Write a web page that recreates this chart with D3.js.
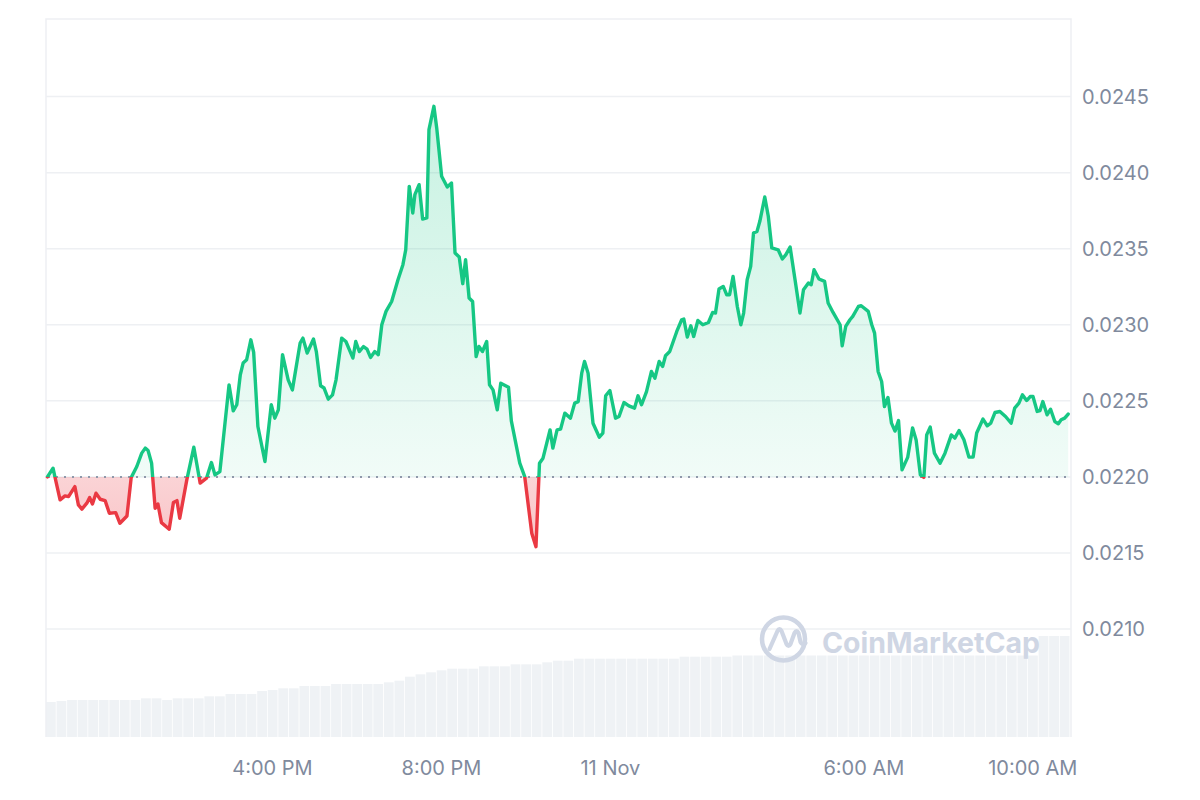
<!DOCTYPE html>
<html><head><meta charset="utf-8">
<script src="https://cdn.jsdelivr.net/npm/d3@7"></script>
<style>html,body{margin:0;padding:0;background:#fff;} svg{display:block;}</style>
</head><body><svg id="chart" width="1200" height="800"></svg>
<script>
// ---------- DATA ----------
const START = "2024-11-10T10:39:00";
const END = "2024-11-11T10:55:00";
const openPrice = 0.0220;
// minutes elapsed since START for each price sample
const minutes = [
2,10,13,20,27,32,41,46,51,58,
62,66,71,77,84,90,99,105,115,121,
129,136,141,145,150,155,159,164,175,181,
186,190,200,210,219,228,235,240,247,260,
266,271,276,280,285,291,295,301,311,320,
325,330,336,344,350,361,365,371,380,384,
390,395,401,407,412,420,426,436,440,445,
451,456,461,467,472,477,483,491,500,507,
511,516,521,524,530,535,541,544,551,555,
562,570,576,581,587,592,596,601,606,611,
615,620,626,630,635,641,646,657,661,673,
680,690,696,701,706,716,720,726,731,737,
745,751,756,761,765,770,777,786,791,795,
801,809,814,821,828,836,841,846,853,860,
865,871,876,880,886,891,896,903,906,911,
916,920,926,933,941,947,951,956,962,967,
971,976,982,987,991,996,1001,1005,1010,1014,
1021,1026,1031,1040,1046,1051,1057,1064,1071,1076,
1083,1087,1091,1098,1106,1111,1118,1128,1131,1136,
1142,1146,1154,1158,1168,1173,1177,1182,1187,1191,
1196,1201,1206,1211,1216,1224,1231,1236,1242,1247,
1251,1256,1262,1270,1277,1286,1291,1297,1304,1311,
1317,1322,1331,1337,1342,1348,1355,1363,1371,1376,
1382,1387,1393,1398,1402,1408,1412,1416,1422,1427,
1433,1438,1442,1447,1452
];
const prices = [
0.022000,0.022057,0.021993,0.021849,0.021875,0.021870,0.021936,0.021816,0.021788,0.021827,
0.021864,0.021822,0.021893,0.021853,0.021844,0.021761,0.021765,0.021695,0.021743,0.021995,
0.022068,0.022156,0.022189,0.022173,0.022090,0.021794,0.021822,0.021699,0.021656,0.021831,
0.021844,0.021728,0.021980,0.022195,0.021959,0.021991,0.022094,0.022013,0.022035,0.022605,
0.022434,0.022474,0.022671,0.022748,0.022770,0.022901,0.022818,0.022331,0.022101,0.022474,
0.022386,0.022441,0.022803,0.022638,0.022572,0.022880,0.022912,0.022814,0.022906,0.022824,
0.022599,0.022584,0.022511,0.022539,0.022638,0.022912,0.022890,0.022781,0.022890,0.022824,
0.022857,0.022840,0.022785,0.022824,0.022803,0.023000,0.023088,0.023153,0.023296,0.023395,
0.023493,0.023910,0.023735,0.023855,0.023921,0.023695,0.023702,0.024283,0.024436,0.024294,
0.023976,0.023906,0.023932,0.023472,0.023445,0.023270,0.023428,0.023176,0.023153,0.022791,
0.022857,0.022824,0.022890,0.022605,0.022572,0.022441,0.022616,0.022589,0.022368,0.022090,
0.022002,0.021630,0.021541,0.022090,0.022123,0.022309,0.022189,0.022309,0.022314,0.022419,
0.022386,0.022485,0.022495,0.022682,0.022759,0.022682,0.022353,0.022261,0.022287,0.022533,
0.022568,0.022386,0.022397,0.022489,0.022467,0.022452,0.022533,0.022474,0.022561,0.022693,
0.022649,0.022759,0.022726,0.022796,0.022824,0.022890,0.022956,0.023033,0.023038,0.022919,
0.022993,0.022923,0.023028,0.023000,0.023015,0.023081,0.023077,0.023235,0.023252,0.023197,
0.023197,0.023318,0.023120,0.023000,0.023077,0.023296,0.023384,0.023603,0.023614,0.023680,
0.023840,0.023713,0.023505,0.023493,0.023432,0.023461,0.023511,0.023296,0.023077,0.023230,
0.023274,0.023263,0.023362,0.023301,0.023285,0.023143,0.023081,0.023000,0.022862,0.022989,
0.023033,0.023055,0.023120,0.023125,0.023088,0.023000,0.022945,0.022693,0.022627,0.022462,
0.022522,0.022353,0.022301,0.022370,0.022046,0.022128,0.022322,0.022243,0.022013,0.021997,
0.022276,0.022327,0.022156,0.022090,0.022156,0.022276,0.022255,0.022305,0.022243,0.022130,
0.022130,0.022288,0.022380,0.022336,0.022353,0.022423,0.022430,0.022397,0.022353,0.022452,
0.022485,0.022539,0.022502,0.022528,0.022528,0.022430,0.022436,0.022495,0.022408,0.022445,
0.022364,0.022349,0.022375,0.022386,0.022413
];
// 15-minute volume bars (millions)
const volumeStepMinutes = 15;
const volumes = [
3.50,3.60,3.70,3.70,3.70,3.70,3.70,3.70,3.70,3.87,
3.87,3.70,3.87,3.87,3.87,4.07,4.07,4.30,4.30,4.30,
4.60,4.70,4.87,4.87,5.10,5.10,5.10,5.30,5.30,5.30,
5.30,5.30,5.47,5.63,6.03,6.27,6.47,6.67,6.83,6.83,
6.83,7.07,7.07,7.07,7.27,7.27,7.27,7.47,7.63,7.63,
7.83,7.83,7.83,7.83,7.83,7.83,7.83,7.83,7.83,7.83,
8.03,8.03,8.03,8.03,8.03,8.15,8.15,8.15,8.15,8.15,
8.15,8.15,8.15,8.15,8.15,8.15,8.15,8.15,8.15,8.15,
8.15,8.15,8.15,8.15,8.15,8.15,8.15,8.15,8.15,8.15,
8.15,8.15,8.15,8.15,10.10,10.10,10.10
];
const priceTicks = [0.0210,0.0215,0.0220,0.0225,0.0230,0.0235,0.0240,0.0245];
const priceTickLabels = ["0.0210","0.0215","0.0220","0.0225","0.0230","0.0235","0.0240","0.0245"];
const timeTicks = ["2024-11-10T16:00:00","2024-11-10T20:00:00","2024-11-11T00:00:00","2024-11-11T06:00:00","2024-11-11T10:00:00"];
const timeTickLabels = ["4:00 PM","8:00 PM","11 Nov","6:00 AM","10:00 AM"];

// ---------- CHART ----------
const parse = d3.timeParse("%Y-%m-%dT%H:%M:%S");
const t0 = parse(START), t1 = parse(END);
const addMin = m => new Date(t0.getTime() + m * 60000);
const n = Math.min(minutes.length, prices.length);
const data = d3.range(n).map(i => ({t: addMin(minutes[i]), v: prices[i]}));

const L = 46, R = 1071, T = 19, B = 737;
const svg = d3.select("#chart");
const x = d3.scaleTime().domain([t0, t1]).range([L, R]);
const y = d3.scaleLinear().domain([0.02029, 0.02501]).range([B, T]);
const yVol = d3.scaleLinear().domain([0, 20]).range([B, B - 200]);
const y0 = y(openPrice);

const defs = svg.append("defs");
const gG = defs.append("linearGradient").attr("id","gGreen").attr("gradientUnits","userSpaceOnUse")
  .attr("x1",0).attr("x2",0).attr("y1",y(d3.max(prices))).attr("y2",y0);
gG.append("stop").attr("offset","0%").attr("stop-color","#16c784").attr("stop-opacity",0.24);
gG.append("stop").attr("offset","100%").attr("stop-color","#16c784").attr("stop-opacity",0.06);
const gR = defs.append("linearGradient").attr("id","gRed").attr("gradientUnits","userSpaceOnUse")
  .attr("x1",0).attr("x2",0).attr("y1",y0).attr("y2",y(d3.min(prices)));
gR.append("stop").attr("offset","0%").attr("stop-color","#ea3943").attr("stop-opacity",0.22);
gR.append("stop").attr("offset","100%").attr("stop-color","#ea3943").attr("stop-opacity",0.3);
defs.append("clipPath").attr("id","clipAbove").append("rect").attr("x",0).attr("y",0).attr("width",1200).attr("height",y0);
defs.append("clipPath").attr("id","clipBelow").append("rect").attr("x",0).attr("y",y0).attr("width",1200).attr("height",800-y0);

// volume bars
const stepW = x(addMin(volumeStepMinutes)) - x(t0);
svg.append("g").selectAll("rect").data(volumes).join("rect")
  .attr("x", (d,i) => x(addMin(i*volumeStepMinutes)))
  .attr("y", d => yVol(d))
  .attr("width", Math.max(0.5, stepW - 0.8))
  .attr("height", d => B - yVol(d))
  .attr("fill", "#eff2f5");

// grid + frame
const grid = svg.append("g");
grid.selectAll("line").data(priceTicks).join("line")
  .attr("x1", L).attr("x2", R).attr("y1", d => y(d)).attr("y2", d => y(d))
  .attr("stroke", "#eef0f3").attr("stroke-width", 1.5);
grid.append("path").attr("d", `M${L},${B}V${T}H${R}V${B}`).attr("fill","none")
  .attr("stroke","#eef0f3").attr("stroke-width",1.5);

// watermark
const wm = svg.append("g").attr("fill","none").attr("stroke","#cfd6e4");
wm.append("circle").attr("cx",783.5).attr("cy",639).attr("r",21.5).attr("stroke-width",4.5);
wm.append("path").attr("transform","translate(783.5,639)")
  .attr("d","M-14,10 L-6,-8 Q-4,-12 -2,-8 L3,5 Q5,9 7,5 L11,-6 Q13,-10 15,-6 L17,3 Q19,7 22,4")
  .attr("stroke-width",4.2).attr("stroke-linecap","round").attr("stroke-linejoin","round");
svg.append("text").attr("x",822).attr("y",653).text("CoinMarketCap")
  .attr("fill","#cfd6e4").attr("font-family","Inter, 'Open Sans', sans-serif").attr("font-weight",700)
  .attr("font-size",29).attr("textLength",218).attr("lengthAdjust","spacingAndGlyphs");

// areas and lines
const area = d3.area().x(d => x(d.t)).y0(y0).y1(d => y(d.v));
const line = d3.line().x(d => x(d.t)).y(d => y(d.v));
svg.append("path").datum(data).attr("d", area).attr("fill","url(#gGreen)").attr("clip-path","url(#clipAbove)");
svg.append("path").datum(data).attr("d", area).attr("fill","url(#gRed)").attr("clip-path","url(#clipBelow)");

// baseline dotted
svg.append("line").attr("x1", L + 2).attr("x2", R).attr("y1", y0).attr("y2", y0)
  .attr("stroke","#8f98aa").attr("stroke-width",2).attr("stroke-dasharray","2,6");

svg.append("path").datum(data).attr("d", line).attr("fill","none").attr("stroke","#16c784")
  .attr("stroke-width",3.4).attr("stroke-linejoin","round").attr("stroke-linecap","round").attr("clip-path","url(#clipAbove)");
svg.append("path").datum(data).attr("d", line).attr("fill","none").attr("stroke","#ea3943")
  .attr("stroke-width",3.4).attr("stroke-linejoin","round").attr("stroke-linecap","round").attr("clip-path","url(#clipBelow)");

// axes
const fontFam = "Inter, 'Liberation Sans', Arial, sans-serif";
const yAxis = svg.append("g").attr("transform", `translate(1082,0)`)
  .call(d3.axisRight(y).tickValues(priceTicks).tickFormat((d,i) => priceTickLabels[i]).tickSize(0).tickPadding(0));
yAxis.select(".domain").remove();
yAxis.selectAll("text").attr("fill","#808a9d").attr("font-size",20).attr("font-family",fontFam).attr("dy","0.35em");

const xAxis = svg.append("g").attr("transform", `translate(0,768)`)
  .call(d3.axisBottom(x).tickValues(timeTicks.map(parse)).tickFormat((d,i) => timeTickLabels[i]).tickSize(0).tickPadding(0));
xAxis.select(".domain").remove();
xAxis.selectAll("text").attr("fill","#808a9d").attr("font-size",20).attr("font-family",fontFam).attr("y",0).attr("dy","0.35em");
</script>
</body></html>
